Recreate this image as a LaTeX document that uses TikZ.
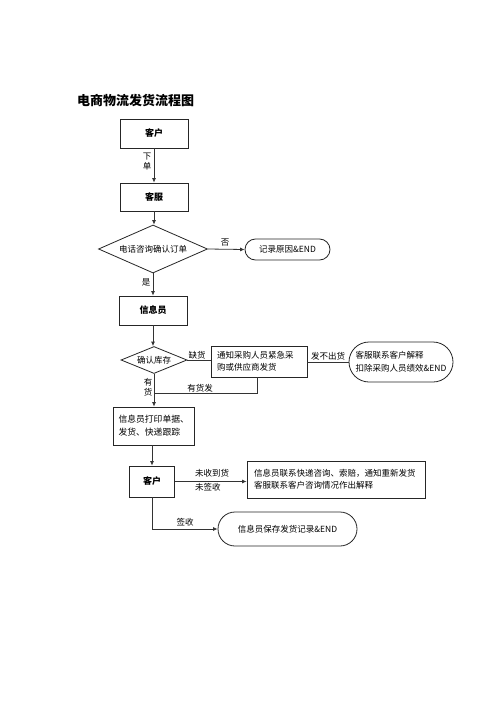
\documentclass[tikz,border=0pt]{standalone}
\usepackage{fontspec}
\setmainfont{Noto Sans CJK SC}
\usetikzlibrary{shapes.geometric,arrows.meta}
\tikzset{
  box/.style={draw=black!85, line width=0.8pt, rectangle, inner sep=2pt, font=\fontsize{8.5}{12}\selectfont},
  bbox/.style={box, font=\fontsize{9}{11}\selectfont\bfseries},
  term/.style={draw=black!85, line width=0.8pt, rectangle, rounded corners=#1, inner sep=2pt, font=\fontsize{8.5}{13}\selectfont},
  dia/.style={draw=black!85, line width=0.8pt, diamond, inner sep=0pt, font=\fontsize{8.5}{10}\selectfont},
  lbl/.style={inner sep=0pt, font=\fontsize{8.5}{10}\selectfont},
  vlbl/.style={inner sep=0pt, font=\fontsize{8.5}{10}\selectfont, align=center},
  conn/.style={draw=black!80, line width=0.8pt},
  arr/.style={conn, -{Latex[length=4.5pt,width=4pt]}}
}
\begin{document}
\begin{tikzpicture}[x=1pt,y=-1pt]
\useasboundingbox (0,0) rectangle (500,707);
\fill[white] (0,0) rectangle (500,707);
% title
\node[anchor=west, inner sep=0pt, font=\fontsize{13}{15}\selectfont\bfseries] (title) at (77,100) {电商物流发货流程图};
% nodes
\node[bbox, minimum width=68pt, minimum height=29pt] (c1) at (154,133.5) {客户};
\node[bbox, minimum width=68pt, minimum height=28pt] (cs) at (154,197) {客服};
\node[dia, aspect=2.27, minimum width=109pt, minimum height=48pt] (d1) at (153,249) {电话咨询确认订单};
\node[term=10.5pt, minimum width=85pt, minimum height=21pt] (t1) at (287.5,249.5) {记录原因\&END};
\node[bbox, minimum width=68pt, minimum height=29pt] (info) at (153,310.5) {信息员};
\node[dia, aspect=2.44, minimum width=66pt, minimum height=27pt] (d2) at (154,360) {确认库存};
\node[box, minimum width=96pt, minimum height=31pt, align=left, text width=84pt] (nb) at (259,361.5) {通知采购人员紧急采\\购或供应商发货};
\node[term=20pt, minimum width=104pt, minimum height=40pt, align=left] (t2) at (401,362) {客服联系客户解释\\扣除采购人员绩效\&END};
\node[box, minimum width=81pt, minimum height=38pt, align=left, text width=70pt, font=\fontsize{8.8}{13}\selectfont] (pb) at (153.5,426) {信息员打印单据、\\发货、快递跟踪};
\node[bbox, minimum width=45pt, minimum height=31pt] (c2) at (152,481.5) {客户};
\node[box, minimum width=178pt, minimum height=37pt, align=left, text width=164pt] (rb) at (336,479.5) {信息员联系快递咨询、索赔，通知重新发货\\客服联系客户咨询情况作出解释};
\node[term=17pt, minimum width=139pt, minimum height=34pt] (t3) at (287.5,529) {信息员保存发货记录\&END};
\coordinate (j) at (154,393);
\coordinate (k) at (152,529);
% labels
\node[vlbl] (lxd) at (147,162) {下\\单};
\node[lbl] (lno) at (225,243) {否};
\node[lbl] (lyes) at (146,282) {是};
\node[lbl] (lqh) at (197,355) {缺货};
\node[lbl] (lbf) at (328,356) {发不出货};
\node[lbl] (lyhf) at (200,388) {有货发};
\node[vlbl] (lyh) at (148,387) {有\\货};
\node[lbl, anchor=west] (lws1) at (195,473) {未收到货};
\node[lbl, anchor=west] (lws2) at (195,487) {未签收};
\node[lbl] (lqs) at (185,522) {签收};
% connectors
\draw[arr] (c1.south) -- (cs.north);
\draw[arr] (cs.south) -- (cs.south |- d1.north);
\draw[arr] (d1.east) -- (t1.west);
\draw[arr] (d1.south) -- (d1.south |- info.north);
\draw[arr] (info.south) -- (info.south |- d2.north);
\draw[conn] (d2.east) -- (d2.east -| nb.west);
\draw[conn] (nb.east |- t2.west) -- (t2.west);
\draw[conn] ([xshift=-2pt]nb.south) |- (j);
\draw[arr] (d2.south) -- (d2.south |- pb.north);
\draw[arr] (pb.south -| c2.north) -- (c2.north);
\draw[arr] (c2.east) -- (c2.east -| rb.west);
\draw[conn] (c2.south) -- (k);
\draw[arr] (k) -- (t3.west);
\end{tikzpicture}
\end{document}
